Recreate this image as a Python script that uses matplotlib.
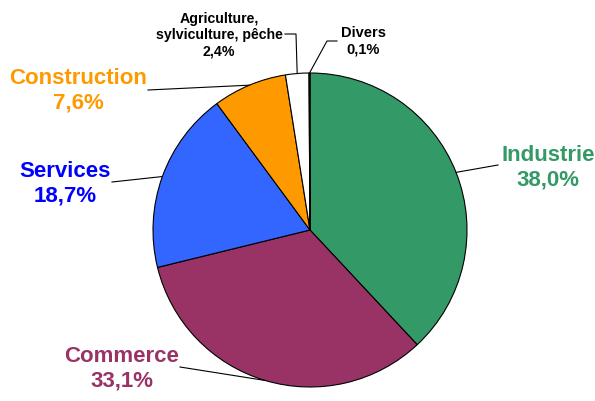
import matplotlib.pyplot as plt
import numpy as np

plt.rcParams['font.family'] = ['Liberation Sans', 'DejaVu Sans']

secteurs = ['Industrie', 'Commerce', 'Services', 'Construction',
            'Agriculture,\nsylviculture, pêche', 'Divers']
parts = [38.0, 33.1, 18.7, 7.6, 2.4, 0.1]
labels = ['38,0%', '33,1%', '18,7%', '7,6%', '2,4%', '0,1%']
couleurs = ['#339966', '#993366', '#3366FF', '#FF9900', 'white', 'white']
couleurs_texte = ['#339966', '#993366', '#0000FF', '#FF9900', 'black', 'black']

fig = plt.figure(figsize=(5.95, 4.01), dpi=100)
ax = fig.add_axes([0, 0, 1, 1])

wedges, _ = ax.pie(parts, colors=couleurs, startangle=90, counterclock=False,
                   normalize=True, radius=1,
                   wedgeprops=dict(edgecolor='black', linewidth=0.8))

# 1 unité = rayon du camembert (157 px), centre à (310, 230) px
R = 157.0
ax.set_xlim(-310 / R, 285 / R)
ax.set_ylim(-(401 - 230) / R, 230 / R)
ax.set_aspect('equal')
ax.axis('off')


def px(x, y):
    return ((x - 310) / R, (230 - y) / R)


def bord(w):
    a = np.deg2rad((w.theta1 + w.theta2) / 2)
    return (np.cos(a), np.sin(a))


# positions des étiquettes (px) et coudes des traits de rappel
pos_txt = [(548, 168), (122, 369), (65, 184), (78, 91), (219, 35), (363, 41)]
tailles = [16, 16, 16, 16, 10.2, 10.5]
coudes = [[(498, 165)], [(180, 367)], [(112, 182)], [(148, 90)],
          [(296, 34), (285, 34)], [(327, 41), (337, 41)]]

for i, w in enumerate(wedges):
    x, y = px(*pos_txt[i])
    ax.text(x, y, secteurs[i] + '\n' + labels[i], ha='center', va='center',
            fontsize=tailles[i], fontweight='bold', color=couleurs_texte[i],
            linespacing=1.22 if tailles[i] > 12 else 1.2)
    pts = [bord(w)] + [px(*c) for c in coudes[i]]
    xs, ys = zip(*pts)
    ax.plot(xs, ys, color='black', linewidth=0.8)

plt.savefig('out.png', dpi=100)
